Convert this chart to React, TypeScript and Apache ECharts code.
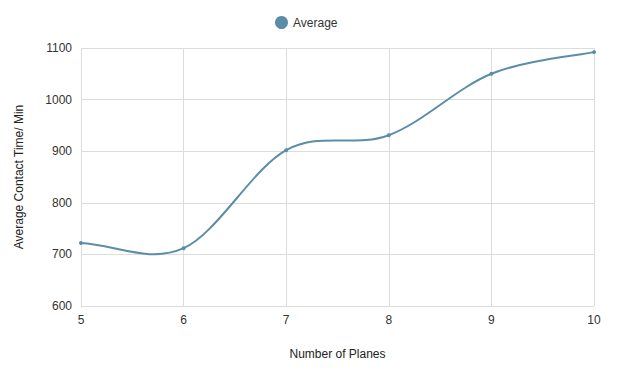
import React, { useEffect, useRef } from "react";
import * as echarts from "echarts";

const planes = [5, 6, 7, 8, 9, 10];
const averageTime = [722, 712, 902, 931, 1050, 1092];
const seriesName = "Average";
const lineColor = "#5b8ea6";

export default function App() {
  const ref = useRef<HTMLDivElement>(null);
  useEffect(() => {
    const chart = echarts.init(ref.current!, undefined, { renderer: "svg" });
    const font = "Liberation Sans, Arial, sans-serif";
    const pts = planes.map((p, i) => [p, averageTime[i]]);
    chart.setOption({
      animation: false,
      textStyle: { fontFamily: font },
      legend: {
        top: 11,
        left: 270,
        icon: "circle",
        itemWidth: 13,
        itemHeight: 13,
        itemGap: 6,
        textStyle: { fontSize: 12, color: "#333", fontFamily: font },
        data: [seriesName],
      },
      grid: { left: 81, right: 24, top: 48, bottom: 67 },
      xAxis: {
        type: "value",
        min: 5,
        max: 10,
        interval: 1,
        name: "Number of Planes",
        nameLocation: "middle",
        nameGap: 42,
        nameTextStyle: { fontSize: 12, color: "#222", fontFamily: font },
        axisLine: { show: false },
        axisTick: { show: false },
        axisLabel: { fontSize: 12, color: "#333", margin: 8, fontFamily: font },
        splitLine: { show: true, lineStyle: { color: "#dcdcdc", width: 1 } },
      },
      yAxis: {
        type: "value",
        min: 600,
        max: 1100,
        interval: 100,
        name: "Average Contact Time/ Min",
        nameLocation: "middle",
        nameGap: 56,
        nameTextStyle: { fontSize: 12, color: "#222", fontFamily: font },
        axisLine: { show: false },
        axisTick: { show: false },
        axisLabel: { fontSize: 12, color: "#333", margin: 9, fontFamily: font, formatter: (v: number) => String(v) },
        splitLine: { show: true, lineStyle: { color: "#dcdcdc", width: 1 } },
      },
      series: [
        {
          name: "curve",
          type: "custom",
          data: [pts[0]],
          silent: true,
          renderItem: (params: any, api: any) => {
            const c = pts.map((p) => api.coord(p));
            const n = c.length;
            const tan = c.map((p, i) => {
              const a = c[Math.max(0, i - 1)];
              const b = c[Math.min(n - 1, i + 1)];
              const k = i === 0 ? 1 : 0.5;
              return [(b[0] - a[0]) * k, (b[1] - a[1]) * k];
            });
            let d = `M${c[0][0]},${c[0][1]}`;
            for (let i = 0; i < n - 1; i++) {
              const p0 = c[i];
              const p1 = c[i + 1];
              const c1 = [p0[0] + tan[i][0] / 3, p0[1] + tan[i][1] / 3];
              const c2 = [p1[0] - tan[i + 1][0] / 3, p1[1] - tan[i + 1][1] / 3];
              d += ` C${c1[0]},${c1[1]} ${c2[0]},${c2[1]} ${p1[0]},${p1[1]}`;
            }
            return {
              type: "path",
              shape: { pathData: d },
              style: { fill: "none", stroke: lineColor, lineWidth: 2 },
            };
          },
        },
        {
          name: seriesName,
          type: "line",
          data: pts,
          symbol: "circle",
          symbolSize: 4,
          showSymbol: true,
          z: 5,
          itemStyle: { color: lineColor },
          lineStyle: { color: lineColor, width: 0, opacity: 0 },
        },
      ],
    });
    return () => chart.dispose();
  }, []);
  return <div ref={ref} style={{ width: 618, height: 373, position: "absolute", left: 0, top: 0 }} />;
}
